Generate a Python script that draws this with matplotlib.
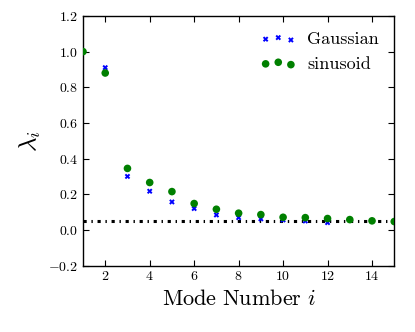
import matplotlib
matplotlib.use("Agg")
import matplotlib.pyplot as plt

modes_gauss = [1, 2, 3, 4, 5, 6, 7, 8, 9, 10, 11, 12]
gauss = [1.0, 0.91, 0.30, 0.217, 0.157, 0.12, 0.084, 0.069, 0.062, 0.056, 0.05, 0.041]
modes_sin = [1, 2, 3, 4, 5, 6, 7, 8, 9, 10, 11, 12, 13, 14, 15]
sinus = [1.0, 0.88, 0.345, 0.266, 0.215, 0.148, 0.116, 0.094, 0.086, 0.071, 0.069, 0.064, 0.058, 0.051, 0.047]
threshold = 0.05

plt.rcParams['font.family'] = 'serif'
plt.rcParams['font.serif'] = ['cmr10']
plt.rcParams['mathtext.fontset'] = 'cm'
plt.rcParams['axes.formatter.use_mathtext'] = True
plt.rcParams['lines.scale_dashes'] = False

fig = plt.figure(figsize=(4.15, 3.32), dpi=100)
ax = fig.add_axes([0.2, 0.2, 0.75, 0.752])
ax.scatter(modes_gauss, gauss, marker='X', s=16, color='blue', edgecolors='none', label='Gaussian', zorder=2)
ax.scatter(modes_sin, sinus, marker='o', s=30, color='green', edgecolors='none', label='sinusoid', zorder=3)
ax.axhline(threshold, color='black', linestyle=(0, (2.3, 3.4, 1.0, 3.4)), linewidth=2.2, zorder=1)
ax.set_xlim(1, 15)
ax.set_ylim(-0.2, 1.2)
ax.set_xticks([2, 4, 6, 8, 10, 12, 14])
ax.set_yticks([-0.2, 0.0, 0.2, 0.4, 0.6, 0.8, 1.0, 1.2])
ax.tick_params(direction='in', top=True, right=True, labelsize=10, length=4)
for s in ax.spines.values():
    s.set_linewidth(1.0)
ax.set_xlabel(r'$\mathrm{Mode\ Number\ }i$', fontsize=16)
ax.set_ylabel(r'$\lambda_i$', fontsize=18)
ax.legend(loc='upper right', frameon=False, scatterpoints=3, fontsize=13,
          handlelength=2.0, handletextpad=0.6, borderaxespad=0.45)
fig.savefig('out.png', dpi=100)
